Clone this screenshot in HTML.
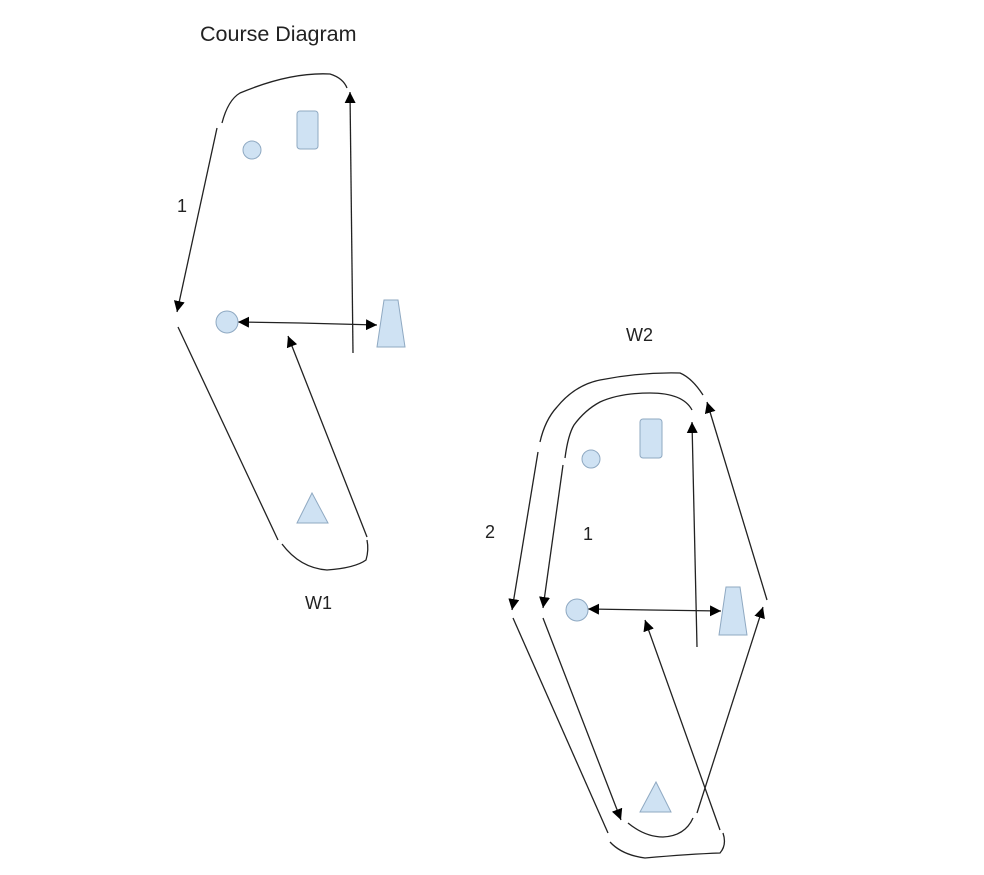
<!DOCTYPE html>
<html><head><meta charset="utf-8"><style>
html,body{margin:0;padding:0;background:#fff;}
svg{display:block;}
text{font-family:"Liberation Sans",sans-serif;fill:#222;}
</style></head><body>
<svg width="984" height="875" viewBox="0 0 984 875" xmlns="http://www.w3.org/2000/svg">
<defs>
<marker id="a" viewBox="0 0 10 10" refX="10" refY="5" markerWidth="11" markerHeight="11" markerUnits="userSpaceOnUse" orient="auto"><path d="M0,0 L10,5 L0,10 z" fill="#000"/></marker>
</defs>
<g fill="none" stroke="#222" stroke-width="1.3">
<path d="M222,123 Q228,100 240,93 Q290,72 330,74 Q343,78 347,88"/>
<line x1="217" y1="128" x2="177" y2="312" marker-end="url(#a)"/>
<line x1="353" y1="353" x2="350" y2="92" marker-end="url(#a)"/>
<line x1="178" y1="327" x2="278" y2="540"/>
<path d="M282,544 Q300,568 327,570 Q355,568 366,560 Q369,550 367,540"/>
<line x1="367" y1="537" x2="288" y2="336" marker-end="url(#a)"/>
<line x1="300" y1="323" x2="238" y2="322" marker-end="url(#a)"/>
<line x1="300" y1="323" x2="377" y2="325" marker-end="url(#a)"/>
<path d="M540,442 Q545,420 557,407 Q575,385 600,380 Q640,372 680,373 Q692,378 703,395"/>
<path d="M565,458 Q568,435 574,425 Q585,410 600,402 Q620,393 650,393 Q683,393 692,410"/>
<line x1="538" y1="452" x2="512" y2="610" marker-end="url(#a)"/>
<line x1="563" y1="465" x2="543" y2="608" marker-end="url(#a)"/>
<line x1="513" y1="618" x2="608" y2="833"/>
<line x1="543" y1="618" x2="621" y2="820" marker-end="url(#a)"/>
<path d="M628,823 Q645,837 663,837 Q685,836 693,818"/>
<path d="M610,842 Q622,855 645,858 Q690,854 720,853 Q727,845 723,833"/>
<line x1="697" y1="647" x2="692" y2="422" marker-end="url(#a)"/>
<line x1="767" y1="600" x2="707" y2="402" marker-end="url(#a)"/>
<line x1="697" y1="813" x2="763" y2="607" marker-end="url(#a)"/>
<line x1="720" y1="830" x2="645" y2="620" marker-end="url(#a)"/>
<line x1="650" y1="610" x2="588" y2="609" marker-end="url(#a)"/>
<line x1="650" y1="610" x2="721" y2="611" marker-end="url(#a)"/>
</g>
<g fill="#cfe2f3" stroke="#8fa9c2" stroke-width="1">
<circle cx="252" cy="150" r="9"/>
<rect x="297" y="111" width="21" height="38" rx="3"/>
<circle cx="227" cy="322" r="11"/>
<path d="M384,300 L398,300 L405,347 L377,347 z"/>
<path d="M312,493 L328,523 L297,523 z"/>
<circle cx="591" cy="459" r="9"/>
<rect x="640" y="419" width="22" height="39" rx="3"/>
<circle cx="577" cy="610" r="11"/>
<path d="M726,587 L740,587 L747,635 L719,635 z"/>
<path d="M656,782 L671,812 L640,812 z"/>
</g>
<text x="200" y="41" font-size="21.5">Course Diagram</text>
<text x="177" y="212" font-size="18">1</text>
<text x="305" y="609" font-size="18">W1</text>
<text x="626" y="341" font-size="18">W2</text>
<text x="485" y="538" font-size="18">2</text>
<text x="583" y="540" font-size="18">1</text>
</svg>
</body></html>
